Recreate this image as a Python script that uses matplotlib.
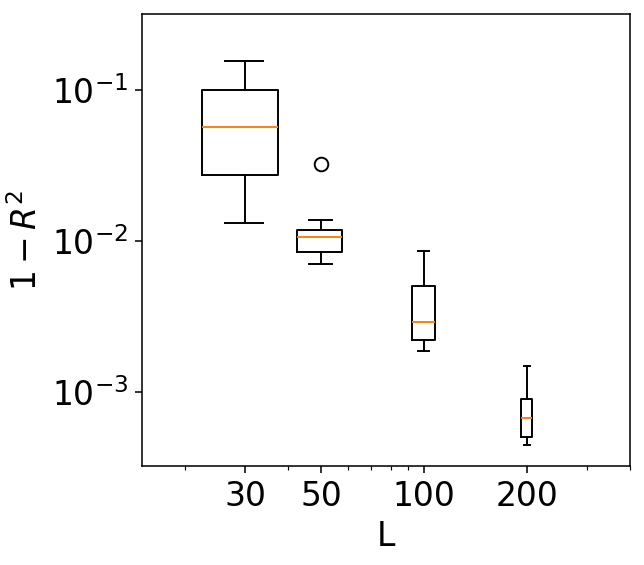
import matplotlib
matplotlib.use("Agg")
import matplotlib.pyplot as plt
from matplotlib.ticker import NullLocator, FixedLocator, NullFormatter

# Data
L_values = [30, 50, 100, 200]
whisker_low = [0.0131, 0.00708, 0.00188, 0.000444]
q1 = [0.0275, 0.00841, 0.00221, 0.000506]
median = [0.0569, 0.0107, 0.00289, 0.000673]
q3 = [0.0995, 0.01178, 0.00503, 0.000895]
whisker_high = [0.156, 0.0137, 0.00863, 0.00148]
outliers = [[], [0.0324], [], []]
x_tick_labels = ["30", "50", "100", "200"]

stats = []
for i in range(len(L_values)):
    stats.append(dict(whislo=whisker_low[i], q1=q1[i], med=median[i],
                      q3=q3[i], whishi=whisker_high[i], fliers=outliers[i]))

dpi = 140
fig = plt.figure(figsize=(644 / dpi, 565 / dpi), dpi=dpi)
ax = fig.add_axes([142 / 644, 1 - 466 / 565, (630 - 142) / 644, (466 - 14) / 565])

ax.set_xscale("log")
ax.set_yscale("log")
ax.bxp(stats, positions=L_values, widths=15, manage_ticks=False,
       flierprops=dict(marker="o", markerfacecolor="none",
                       markeredgecolor="black", markersize=7))

ax.set_xlim(15, 400)
ax.set_ylim(3.24e-4, 0.318)

ax.xaxis.set_major_locator(FixedLocator(L_values))
ax.set_xticklabels(x_tick_labels)
ax.xaxis.set_minor_locator(FixedLocator([20, 40, 60, 70, 80, 90, 300, 400]))
ax.xaxis.set_minor_formatter(NullFormatter())
ax.yaxis.set_minor_locator(NullLocator())

ax.tick_params(axis="both", which="major", labelsize=17)
ax.set_xlabel("L", fontsize=17)
ax.set_ylabel("$1-R^2$", fontsize=17)

fig.savefig("out.png", dpi=dpi)
